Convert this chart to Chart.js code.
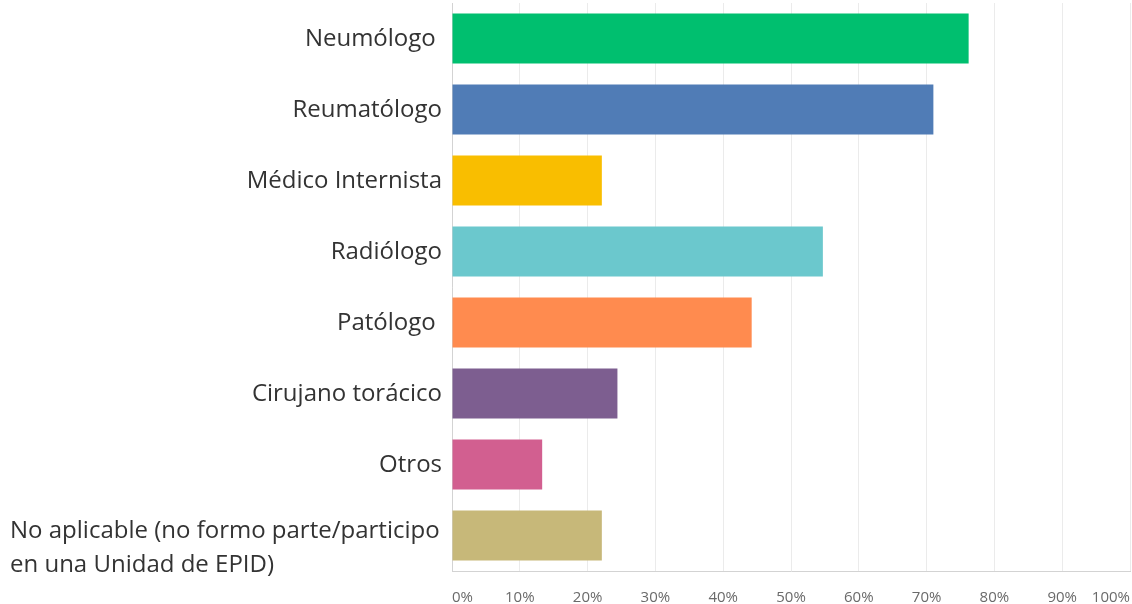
<!DOCTYPE html>
<html>
<head>
    <meta charset="utf-8">
    <title>Especialistas</title>
    <script src="https://cdn.jsdelivr.net/npm/chart.js"></script>
    <style>
    html, body { margin: 0; padding: 0; background: #fff; }
    #wrap { width: 1132px; height: 604px; }
    </style>
</head>
<body>
    <div id="wrap"><canvas id="barChart"></canvas></div>
    <script>
      // data
      var categories = [
          'Neumólogo ',
          'Reumatólogo',
          'Médico Internista',
          'Radiólogo',
          'Patólogo ',
          'Cirujano torácico',
          'Otros',
          ['No aplicable (no formo parte/participo', 'en una Unidad de EPID)']
      ];
      var percentValues = [76.2, 71.0, 22.1, 54.7, 44.2, 24.4, 13.3, 22.1];
      var barColors = ['#00bf6f', '#507cb6', '#f9be00', '#6bc8cd', '#ff8b4f', '#7d5e90', '#d25f90', '#c7b879'];
      var tickSteps = [0, 10, 20, 30, 40, 50, 60, 70, 80, 90, 100];

      // y labels drawn by hand so the two-line one can be left aligned
      var categoryLabels = {
          id: 'categoryLabels',
          afterDraw: function(chart) {
              var ctx = chart.ctx;
              var yScale = chart.scales.y;
              ctx.save();
              ctx.font = '24px "Open Sans"';
              ctx.fillStyle = '#333333';
              ctx.textBaseline = 'middle';
              categories.forEach(function(lbl, i) {
                  var y = yScale.getPixelForTick(i) + 1;
                  if (Array.isArray(lbl)) {
                      ctx.textAlign = 'left';
                      ctx.fillText(lbl[0], 10, y - 5);
                      ctx.fillText(lbl[1], 10, y + 29);
                  } else {
                      ctx.textAlign = 'right';
                      ctx.fillText(lbl, 442, y);
                  }
              });
              ctx.restore();
          }
      };

      var ctxBar = document.getElementById('barChart').getContext('2d');
      var barChart = new Chart(ctxBar, {
          type: 'bar',
          data: {
              labels: categories,
              datasets: [{
                  data: percentValues,
                  backgroundColor: barColors,
                  borderWidth: 0,
                  barPercentage: 0.704,
                  categoryPercentage: 1
              }]
          },
          options: {
              indexAxis: 'y',
              responsive: true,
              maintainAspectRatio: false,
              animation: false,
              layout: { padding: { top: 3, right: 2, left: 0, bottom: 0 } },
              plugins: {
                  legend: { display: false },
                  tooltip: { enabled: false }
              },
              scales: {
                  x: {
                      min: 0,
                      max: 100,
                      afterBuildTicks: function(axis) {
                          axis.ticks = tickSteps.map(function(v) { return { value: v }; });
                      },
                      afterFit: function(axis) {
                          axis.height = 33;
                          axis.paddingLeft = 0;
                          axis.paddingRight = 0;
                      },
                      grid: { color: '#ebebeb', drawTicks: false },
                      border: { color: '#d3d3d3' },
                      ticks: {
                          align: 'inner',
                          padding: 18,
                          color: '#6a6a6a',
                          font: { family: 'Open Sans', size: 15 },
                          callback: function(v) { return v + '%'; }
                      }
                  },
                  y: {
                      grid: { display: false },
                      border: { color: '#d3d3d3' },
                      ticks: { display: false },
                      afterFit: function(axis) { axis.width = 452; }
                  }
              }
          },
          plugins: [categoryLabels]
      });
    </script>
</body>
</html>
